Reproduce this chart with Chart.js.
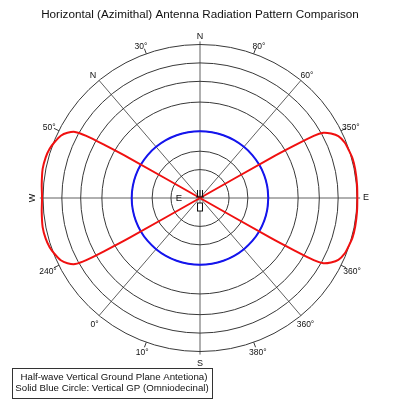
<!DOCTYPE html>
<html><head><meta charset="utf-8">
<script src="https://cdn.jsdelivr.net/npm/chart.js@4.4.1/dist/chart.umd.min.js"></script>
<style>html,body{margin:0;padding:0;background:#fff;}canvas{display:block;}</style>
</head><body>
<canvas id="c" width="400" height="400"></canvas>
<script>
// ---------- data ----------
const chartTitle = 'Horizontal (Azimithal) Antenna Radiation Pattern Comparison';
const seriesNames = ['Half-wave Vertical Ground Plane Antetiona)', 'Solid Blue Circle: Vertical GP (Omniodecinal)'];

// red pattern: angle (deg, counter-clockwise from E) and relative gain
const redAngles = [30, 30, 29.6, 29.2, 28.4, 26.7, 24.6, 21.5, 18.5, 15, 10.7, 5, 0, -5, -10.7, -15, -18.5, -21.5, -24.6, -26.7, -28.4, -29.2, -29.6, -30, -30,
                   150, 150.4, 150.8, 151.6, 153.3, 155.4, 158.5, 161.5, 165, 169.3, 175, 180, 185, 190.7, 195, 198.5, 201.5, 204.6, 206.7, 208.4, 209.2, 209.6, 210, 210];
const redGains  = [0, 0.52, 0.70, 0.83, 0.893, 0.934, 0.969, 0.99, 0.997, 1.005, 1.006, 1.004, 1.002, 1.004, 1.006, 1.005, 0.997, 0.99, 0.969, 0.934, 0.893, 0.83, 0.70, 0.52, 0,
                   0.52, 0.70, 0.83, 0.905, 0.945, 0.975, 0.995, 1.01, 1.018, 1.02, 1.012, 1.006, 1.012, 1.02, 1.018, 1.01, 0.995, 0.975, 0.945, 0.905, 0.83, 0.70, 0.52, 0];

// blue omnidirectional pattern
const blueAngles = [0, 10, 20, 30, 40, 50, 60, 70, 80, 90, 100, 110, 120, 130, 140, 150, 160, 170, 180,
                    190, 200, 210, 220, 230, 240, 250, 260, 270, 280, 290, 300, 310, 320, 330, 340, 350, 360];
const blueGains  = [0.435, 0.435, 0.435, 0.435, 0.435, 0.435, 0.435, 0.435, 0.435, 0.435, 0.435, 0.435, 0.435, 0.435, 0.435, 0.435, 0.435, 0.435, 0.435,
                    0.435, 0.435, 0.435, 0.435, 0.435, 0.435, 0.435, 0.435, 0.435, 0.435, 0.435, 0.435, 0.435, 0.435, 0.435, 0.435, 0.435, 0.435];

// polar grid
const ringLevels = [0.185, 0.305, 0.435, 0.625, 0.76, 0.88, 1.0];
const spokeAngles = [0, 50, 90, 130];
const compassTexts  = ['E', '60°', 'N', 'N', 'W', '0°', 'S', '360°'];
const compassAngles = [0, 49.4, 90, 130.6, 180, 230.8, 270, 309.2];
const tickTexts  = ['350°', '80°', '30°', '50°', '240°', '10°', '380°', '360°'];
const tickAngles = [26, 70, 110, 154, 206, 250, 290, 334];
const centerText = 'E';

// ---------- layout / style (not data) ----------
const FONT = "'Liberation Sans', Arial, Helvetica, sans-serif";
const TITLE_SIZE = 11.7, TITLE_PAD_TOP = 8, TITLE_PAD_BOTTOM = 2;
const CX_PX = 200, CY_PX = 198, RX_PX = 157, RY_PX = 153.5, W = 400, H = 400;
const titleH = TITLE_SIZE * 1.2 + TITLE_PAD_TOP + TITLE_PAD_BOTTOM;
const xMax = (W - CX_PX) / RX_PX, xMin = -CX_PX / RX_PX;
const yMax = (CY_PX - titleH) / RY_PX, yMin = -(H - CY_PX) / RY_PX;
const compassRadii = [1.057, 1.047, 1.049, 1.047, 1.064, 1.062, 1.077, 1.063];
const compassSizes = [9, 8.5, 9, 9, 9, 8.5, 9, 8.5];
const tickLabelAngles = [25.4, 69.1, 110.9, 154.6, 206.4, 249.9, 290.1, 333.6];
const tickLabelRadii = [1.064, 1.053, 1.053, 1.064, 1.081, 1.073, 1.073, 1.081];
const spokeReach = [1.02, 1.0, 1.02, 1.0];

const rad = d => d * Math.PI / 180;
const toXY = (angles, gains) => angles.map((a, i) => ({ x: gains[i] * Math.cos(rad(a)), y: gains[i] * Math.sin(rad(a)) }));

const polarDecor = {
  id: 'polarDecor',
  beforeDatasetsDraw(chart) {
    const { ctx, scales: { x, y } } = chart;
    const px = (a, r) => x.getPixelForValue(r * Math.cos(rad(a)));
    const py = (a, r) => y.getPixelForValue(r * Math.sin(rad(a)));
    const cx = x.getPixelForValue(0), cy = y.getPixelForValue(0);
    const rx = x.getPixelForValue(1) - cx, ry = cy - y.getPixelForValue(1);
    ctx.save();
    // spokes
    ctx.strokeStyle = '#606060'; ctx.lineWidth = 1;
    spokeAngles.forEach((a, i) => {
      const r = spokeReach[i];
      ctx.beginPath();
      ctx.moveTo(px(a, r), py(a, r));
      ctx.lineTo(px(a + 180, r), py(a + 180, r));
      ctx.stroke();
    });
    // rings
    ctx.strokeStyle = '#383838'; ctx.lineWidth = 1;
    ringLevels.forEach(v => {
      ctx.beginPath(); ctx.ellipse(cx, cy, rx * v, ry * v, 0, 0, Math.PI * 2); ctx.stroke();
    });
    // ticks on outer ring
    tickAngles.forEach(a => {
      ctx.beginPath(); ctx.moveTo(px(a, 1), py(a, 1)); ctx.lineTo(px(a, 1.035), py(a, 1.035)); ctx.stroke();
    });
    ctx.restore();
  },
  afterDatasetsDraw(chart) {
    const { ctx, scales: { x, y } } = chart;
    const px = (a, r) => x.getPixelForValue(r * Math.cos(rad(a)));
    const py = (a, r) => y.getPixelForValue(r * Math.sin(rad(a)));
    const cx = x.getPixelForValue(0), cy = y.getPixelForValue(0);
    ctx.save();
    ctx.fillStyle = '#111'; ctx.textAlign = 'center'; ctx.textBaseline = 'middle';
    compassTexts.forEach((t, i) => {
      const a = compassAngles[i], r = compassRadii[i];
      ctx.font = compassSizes[i] + 'px ' + FONT;
      if (t === 'W') {
        ctx.save(); ctx.translate(px(a, r), py(a, r)); ctx.rotate(-Math.PI / 2); ctx.fillText(t, 0, 0); ctx.restore();
      } else {
        ctx.fillText(t, px(a, r), py(a, r));
      }
    });
    ctx.font = '8.5px ' + FONT;
    tickTexts.forEach((t, i) => ctx.fillText(t, px(tickLabelAngles[i], tickLabelRadii[i]), py(tickLabelAngles[i], tickLabelRadii[i])));
    ctx.font = '9.5px ' + FONT;
    ctx.fillText(centerText, px(180, 0.134), py(180, 0.134));
    // antenna icon at centre
    ctx.strokeStyle = '#111'; ctx.lineWidth = 1;
    ctx.beginPath();
    [-2.5, 0, 2.5].forEach(d => { ctx.moveTo(cx + d, cy - 8); ctx.lineTo(cx + d, cy - 1); });
    ctx.moveTo(cx - 4, cy - 1); ctx.lineTo(cx + 4, cy - 1);
    ctx.stroke();
    ctx.fillStyle = '#fff';
    ctx.fillRect(cx - 2.5, cy + 5, 5, 8);
    ctx.strokeRect(cx - 2.5, cy + 5, 5, 8);
    ctx.restore();
  },
  afterDraw(chart) {
    const { ctx } = chart;
    ctx.save();
    ctx.fillStyle = '#fff'; ctx.strokeStyle = '#333'; ctx.lineWidth = 1;
    ctx.fillRect(12.5, 368.5, 200, 30);
    ctx.strokeRect(12.5, 368.5, 200, 30);
    ctx.fillStyle = '#111'; ctx.font = '9.7px ' + FONT; ctx.textAlign = 'center'; ctx.textBaseline = 'middle';
    ctx.fillText(seriesNames[0], 114, 377);
    ctx.fillText(seriesNames[1], 112, 388.5);
    ctx.restore();
  }
};

new Chart(document.getElementById('c'), {
  type: 'scatter',
  data: {
    datasets: [
      { label: seriesNames[0], data: toXY(redAngles, redGains), showLine: true, borderColor: '#f01010', borderWidth: 2,
        pointRadius: 0, tension: 0.25, fill: false },
      { label: seriesNames[1], data: toXY(blueAngles, blueGains), showLine: true, borderColor: '#1414ee', borderWidth: 2,
        pointRadius: 0, tension: 0.335, fill: false }
    ]
  },
  options: {
    responsive: false, animation: false, devicePixelRatio: 1,
    layout: { padding: 0 },
    plugins: {
      legend: { display: false }, tooltip: { enabled: false },
      title: { display: true, text: chartTitle, color: '#111',
               font: { family: FONT, size: TITLE_SIZE, weight: 'normal' },
               padding: { top: TITLE_PAD_TOP, bottom: TITLE_PAD_BOTTOM } }
    },
    scales: {
      x: { type: 'linear', display: false, min: xMin, max: xMax },
      y: { type: 'linear', display: false, min: yMin, max: yMax }
    }
  },
  plugins: [polarDecor]
});
</script>
</body></html>
